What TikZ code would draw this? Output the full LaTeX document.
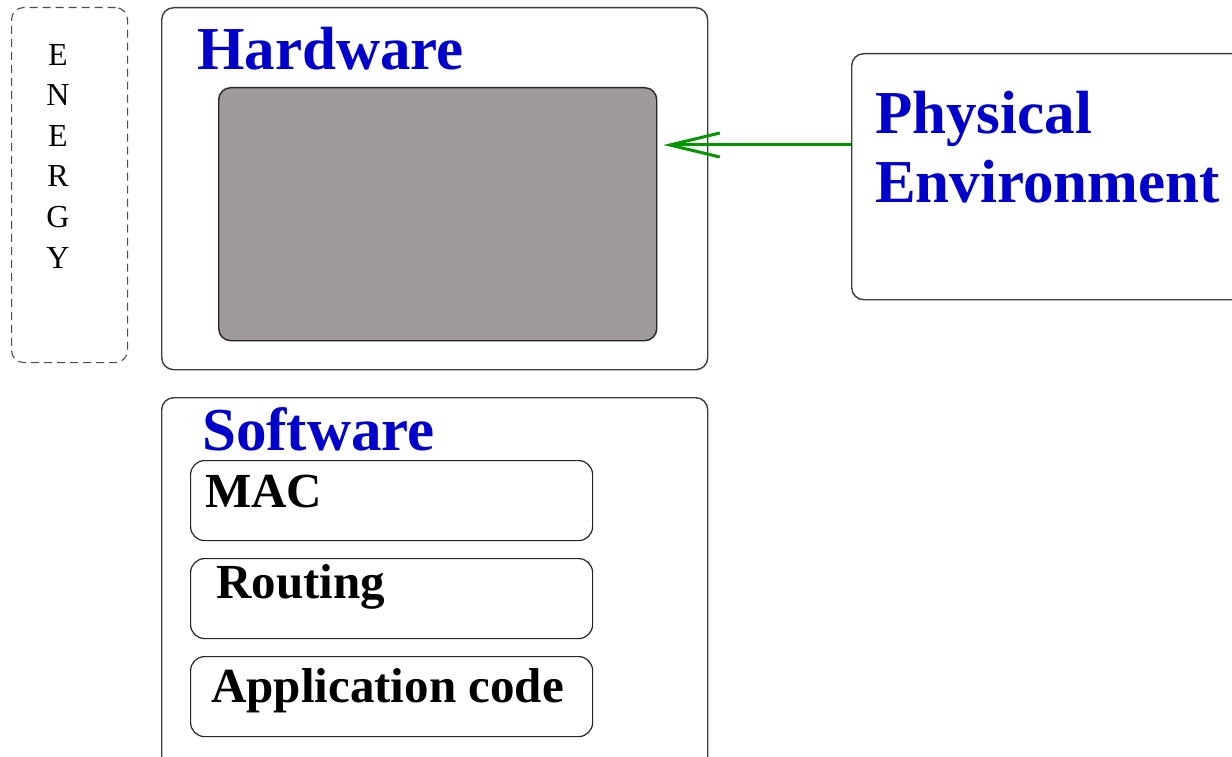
\documentclass[tikz,border=0pt]{standalone}
\usepackage{fontspec}
\setmainfont{Liberation Serif}
\usetikzlibrary{arrows.meta}
\definecolor{titleblue}{RGB}{0,0,204}
\definecolor{chipgray}{RGB}{160,155,154}
\definecolor{flowgreen}{RGB}{0,150,0}
\definecolor{edgegray}{RGB}{60,60,60}
\tikzset{
  panel/.style={draw=edgegray, line width=1.4pt, rounded corners=12pt, rectangle,
                anchor=north west, inner sep=0pt},
  layer/.style={draw=black!85, line width=1.2pt, rounded corners=14pt, rectangle,
                anchor=north west, inner sep=0pt, minimum width=402pt, minimum height=80pt},
  title/.style={anchor=base west, inner sep=0pt, text=titleblue,
                font=\bfseries\fontsize{61}{69}\selectfont, align=left},
  layertext/.style={anchor=base west, inner sep=0pt,
                font=\bfseries\fontsize{49}{56}\selectfont},
  flow/.style={draw=flowgreen, line width=3pt,
               -{Straight Barb[length=50pt,width=24pt,line width=3pt]}}
}
\begin{document}
\begin{tikzpicture}[x=1pt,y=-1pt]
  \clip (0,0) rectangle (1232,757);
  \fill[white] (0,0) rectangle (1232,757);

  % energy column
  \node[panel, draw=black!70, dash pattern=on 8pt off 5pt, line width=1.1pt,
        minimum width=116pt, minimum height=355pt] (energy) at (11,7) {};
  \node[anchor=base, inner sep=0pt, align=center,
        font=\fontsize{32}{40.6}\selectfont] (energylbl) at (58,268) {E\\N\\E\\R\\G\\Y};

  % hardware block
  \node[panel, minimum width=546pt, minimum height=362pt] (hw) at (161,7) {};
  \node[title] (hwlbl) at (197,70) {Hardware};
  \node[panel, draw=black!85, fill=chipgray, minimum width=438pt, minimum height=253pt]
        (chip) at (218,87) {};

  % physical environment
  \node[panel, minimum width=420pt, minimum height=246pt] (env) at (851,53) {};
  \node[title] (envlbl) at (875,202) {Physical\\Environment};

  % software block
  \node[panel, minimum width=546pt, minimum height=380pt] (sw) at (161,397) {};
  \node[title] (swlbl) at (202,450) {Software};
  \node[layer] (mac) at (190,460) {};
  \node[layertext] (maclbl) at (205,507) {MAC};
  \node[layer] (routing) at (190,558) {};
  \node[layertext] (routinglbl) at (216,598) {Routing};
  \node[layer] (app) at (190,656) {};
  \node[layertext] (applbl) at (211,702) {Application code};

  % sensing input from the environment into the hardware
  \coordinate (src) at ([yshift=-92pt]env.north west);
  \draw[flow] (src) -- ([xshift=6pt]chip.east |- src);
\end{tikzpicture}
\end{document}
